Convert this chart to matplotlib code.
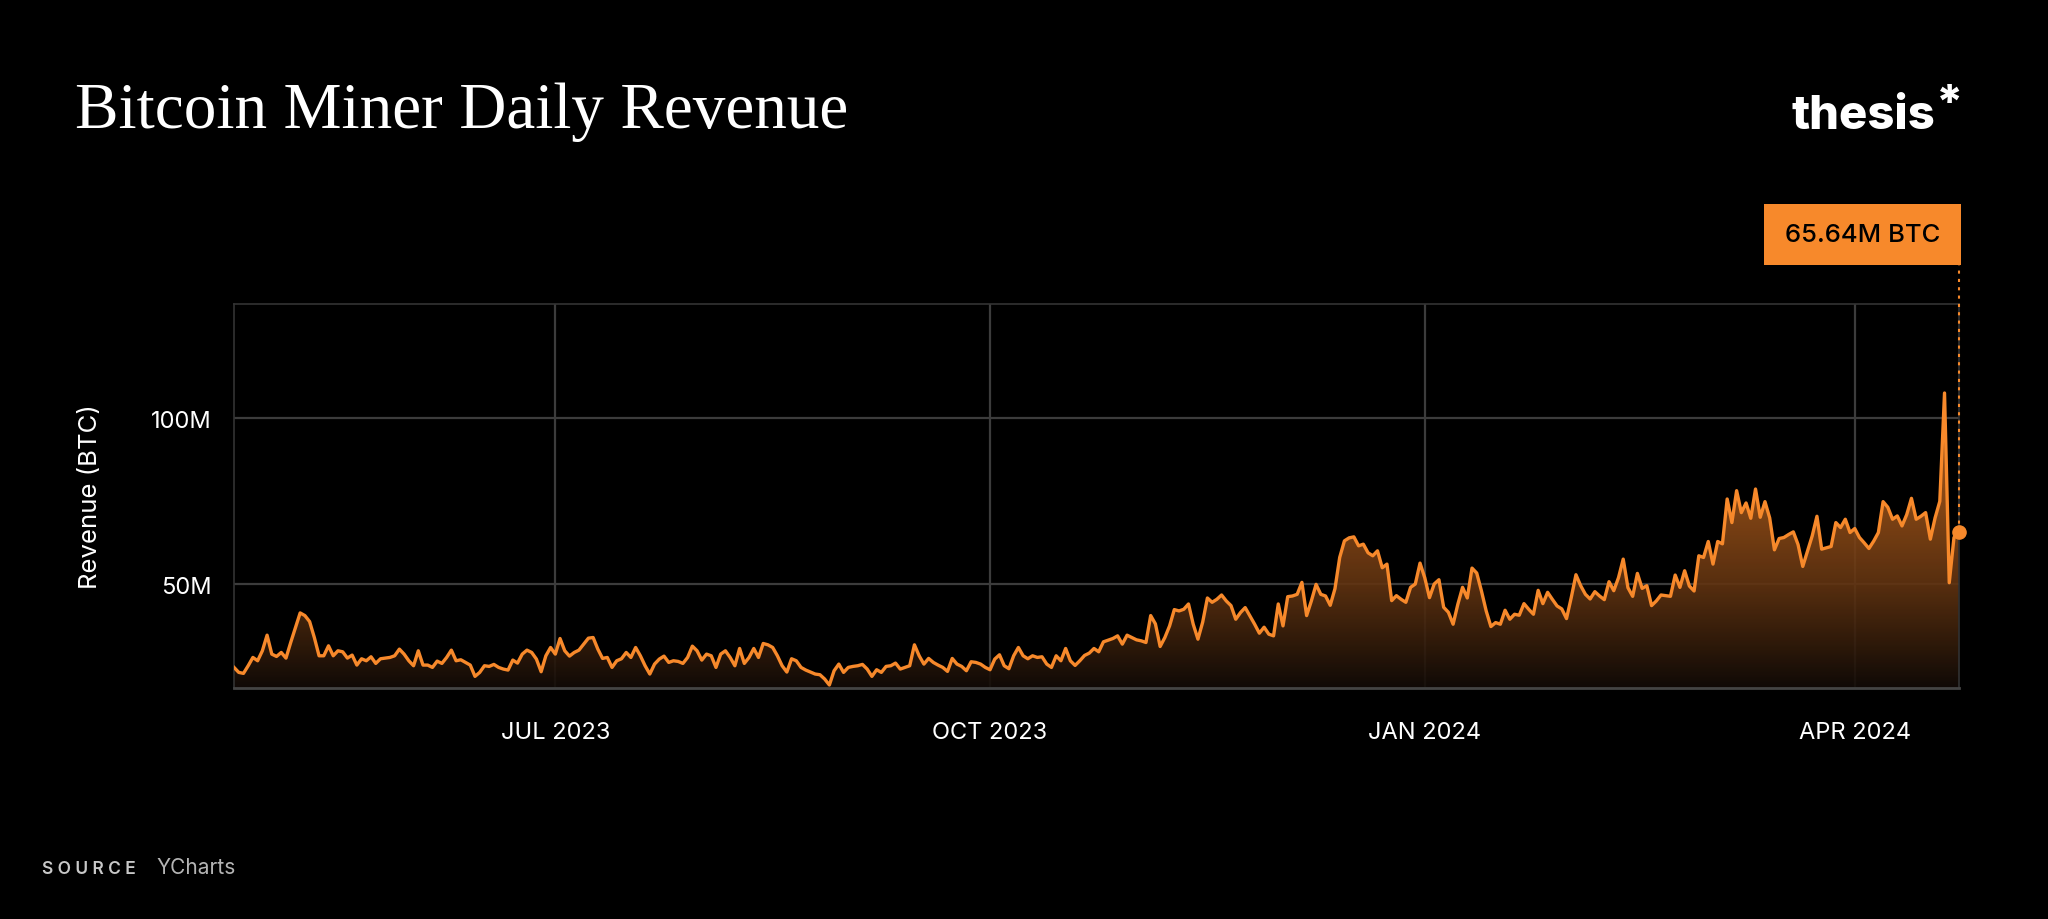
import matplotlib
matplotlib.use('Agg')
import matplotlib.pyplot as plt
import matplotlib.dates as mdates
from matplotlib.colors import LinearSegmentedColormap
from matplotlib.patches import Rectangle
import numpy as np
import pandas as pd

# daily miner revenue, millions (2023-04-24 .. 2024-04-23)
start_date = '2023-04-24'
revenue = [
    25.0, 23.5, 23.2, 25.5, 28.0, 27.0, 30.0, 34.7, 29.0, 28.3,
    29.5, 27.8, 32.5, 37.0, 41.4, 40.6, 38.8, 34.0, 28.5, 28.5,
    31.5, 28.5, 30.0, 29.7, 27.8, 28.7, 25.7, 27.6, 27.0, 28.2,
    26.2, 27.6, 27.8, 28.0, 28.5, 30.5, 29.0, 27.0, 25.5, 30.0,
    25.7, 25.7, 25.0, 26.9, 26.2, 28.0, 30.2, 27.0, 27.3, 26.5,
    25.7, 22.3, 23.5, 25.5, 25.3, 25.9, 25.0, 24.5, 24.2, 27.2,
    26.3, 29.0, 30.2, 29.5, 27.5, 23.7, 28.5, 31.0, 29.0, 33.7,
    30.0, 28.4, 29.5, 30.2, 32.0, 33.8, 34.0, 30.5, 27.7, 28.0,
    25.0, 27.0, 27.6, 29.5, 28.0, 31.0, 28.5, 25.5, 23.0, 26.0,
    27.5, 28.4, 26.5, 27.0, 26.8, 26.2, 28.0, 31.4, 30.0, 27.2,
    29.0, 28.5, 25.0, 29.0, 30.0, 28.0, 25.5, 30.7, 26.2, 28.0,
    30.7, 28.0, 32.2, 31.8, 31.0, 28.5, 25.5, 23.6, 27.6, 27.0,
    25.0, 24.2, 23.6, 23.0, 22.8, 21.5, 19.7, 24.0, 26.0, 23.5,
    25.0, 25.3, 25.5, 25.9, 24.5, 22.3, 24.3, 23.5, 25.3, 25.5,
    26.3, 24.5, 25.0, 25.5, 31.8, 28.5, 26.0, 27.7, 26.5, 25.7,
    25.0, 23.8, 27.7, 26.0, 25.3, 24.0, 26.7, 26.5, 26.0, 25.0,
    24.3, 27.5, 28.8, 25.5, 24.6, 28.5, 31.0, 28.5, 27.6, 28.5,
    28.0, 28.2, 26.0, 25.0, 28.5, 27.0, 30.7, 27.0, 25.6, 27.0,
    28.6, 29.3, 30.7, 29.7, 32.7, 33.2, 33.7, 34.5, 32.0, 34.7,
    34.0, 33.3, 33.0, 32.5, 40.6, 38.1, 31.3, 34.0, 37.5, 42.4,
    42.0, 42.5, 44.1, 38.0, 33.5, 38.6, 45.9, 44.6, 45.5, 46.8,
    45.0, 43.6, 39.5, 41.5, 43.0, 40.5, 38.0, 35.3, 37.1, 35.0,
    34.5, 44.1, 37.5, 46.3, 46.5, 47.0, 50.6, 40.6, 45.0, 50.0,
    47.0, 46.5, 43.7, 48.7, 58.1, 63.1, 64.0, 64.3, 61.6, 62.1,
    59.5, 58.6, 60.1, 55.0, 56.1, 45.1, 46.6, 45.5, 44.6, 49.1,
    50.1, 56.4, 52.0, 46.0, 50.1, 51.4, 43.1, 41.6, 38.0, 44.0,
    49.1, 45.9, 54.9, 53.4, 48.0, 42.0, 37.3, 38.5, 38.0, 42.2,
    39.5, 41.0, 40.7, 44.2, 42.5, 41.0, 48.2, 44.2, 47.6, 45.5,
    43.5, 42.6, 39.7, 46.0, 52.9, 49.6, 47.0, 45.6, 47.8, 46.5,
    45.4, 50.8, 48.1, 52.0, 57.6, 49.0, 46.4, 53.3, 48.8, 49.6,
    43.6, 45.0, 46.8, 46.6, 46.4, 52.8, 49.1, 54.1, 49.5, 48.0,
    58.6, 58.1, 62.9, 56.1, 62.9, 62.2, 75.7, 68.6, 78.2, 71.6,
    74.5, 69.9, 78.7, 70.2, 74.9, 70.0, 60.4, 63.8, 64.1, 65.0,
    65.8, 62.0, 55.4, 60.0, 64.6, 70.5, 60.6, 61.0, 61.4, 68.6,
    67.1, 69.6, 65.6, 66.8, 64.1, 62.5, 60.8, 63.0, 65.6, 74.9,
    73.2, 69.6, 70.6, 67.6, 71.0, 75.9, 69.6, 70.5, 71.6, 63.6,
    70.0, 75.0, 107.6, 50.5, 64.1, 65.64,
]
tick_dates = ['2023-07-01', '2023-10-01', '2024-01-01', '2024-04-01']
tick_labels = ['JUL 2023', 'OCT 2023', 'JAN 2024', 'APR 2024']
y_ticks = [50, 100]
y_tick_labels = ['50M', '100M']
last_label = '65.64M BTC'

ORANGE = '#f7892b'
GRID = '#3c3c3c'
SANS = ['Inter', 'DejaVu Sans']

plt.rcParams['font.family'] = SANS

dates = pd.date_range(start_date, periods=len(revenue), freq='D')
xnum = mdates.date2num(dates)
ylo, yhi = 18.8, 134.4

fig = plt.figure(figsize=(20.48, 9.2), dpi=100, facecolor='black')
ax = fig.add_axes([234 / 2048, 1 - 689 / 920, 1724.7 / 2048, 384 / 920])
ax.set_facecolor('black')

# grid
for v in y_ticks:
    ax.axhline(v, color=GRID, lw=1.6, zorder=0)
for d in tick_dates:
    ax.axvline(mdates.date2num(pd.Timestamp(d)), color=GRID, lw=1.6, zorder=0)

# gradient fill under the line
cmap = LinearSegmentedColormap.from_list('fade', [
    (0.0, '#120b07'),
    ((50 - ylo) / (110 - ylo), '#623411'),
    ((80 - ylo) / (110 - ylo), '#9e541a'),
    (1.0, '#aa5b1c'),
])
grad = np.linspace(0, 1, 256).reshape(-1, 1)
img = ax.imshow(grad, extent=[xnum[0], xnum[-1], ylo, 110], origin='lower',
                aspect='auto', cmap=cmap, alpha=0.9, zorder=1, interpolation='bicubic')
poly = ax.fill_between(xnum, revenue, ylo, facecolor='none', edgecolor='none')
img.set_clip_path(poly.get_paths()[0], transform=ax.transData)

ax.plot(xnum, revenue, color=ORANGE, lw=2.4, zorder=3, solid_joinstyle='round')
ax.plot(xnum[-1], revenue[-1], 'o', color=ORANGE, ms=9.5, zorder=4, clip_on=False)

ax.set_xlim(xnum[0], xnum[-1])
ax.set_ylim(ylo, yhi)

ax.set_xticks([mdates.date2num(pd.Timestamp(d)) for d in tick_dates])
ax.set_xticklabels(tick_labels)
ax.set_yticks(y_ticks)
ax.set_yticklabels(y_tick_labels)
ax.tick_params(axis='both', length=0, colors='white', labelsize=17)
ax.tick_params(axis='x', pad=23.5)
ax.tick_params(axis='y', pad=16)
ax.set_ylabel('Revenue (BTC)', color='white', fontsize=18.5)
ax.yaxis.set_label_coords(-0.0766, 0.5)

for side in ['left', 'top', 'right']:
    ax.spines[side].set_color('#333333')
    ax.spines[side].set_linewidth(1.2)
ax.spines['bottom'].set_color('#444444')
ax.spines['bottom'].set_linewidth(2)

# dotted leader from last point up to the value box
box_bottom = 1 + (305 - 266) / 384
trans = matplotlib.transforms.blended_transform_factory(ax.transData, ax.transAxes)
ax.plot([xnum[-1], xnum[-1]], [(revenue[-1] - ylo) / (yhi - ylo), box_bottom],
        transform=trans, color=ORANGE, lw=1.5, ls=(0, (1.5, 2.5)), clip_on=False, zorder=4)

fig.add_artist(Rectangle((1764 / 2048, 1 - 266 / 920), 197 / 2048, 61 / 920,
                         transform=fig.transFigure, facecolor=ORANGE, edgecolor='none'))
fig.text((1764 + 98.5) / 2048, 1 - 236 / 920, last_label, ha='center', va='center',
         color='black', fontsize=18.5, fontweight='medium')

# title, logo, source
fig.text(75 / 2048, 1 - 128 / 920, 'Bitcoin Miner Daily Revenue', color='white',
         fontsize=47, family='Liberation Serif', va='baseline', ha='left')
fig.text(1935 / 2048, 1 - 129 / 920, 'thesis', color='white', fontsize=34,
         fontweight='heavy', va='baseline', ha='right')
fig.text(1936 / 2048, 1 - 84 / 920, '*', color='white', fontsize=34,
         fontweight='heavy', va='top', ha='left')
fig.text(42 / 2048, 1 - 874 / 920, 'S O U R C E', color='#c8c8c8', fontsize=12.5,
         fontweight='semibold', va='baseline', ha='left')
fig.text(156 / 2048, 1 - 874 / 920, 'YCharts', color='#b4b4b4', fontsize=15,
         va='baseline', ha='left')

fig.savefig('out.png', dpi=100, facecolor='black')
